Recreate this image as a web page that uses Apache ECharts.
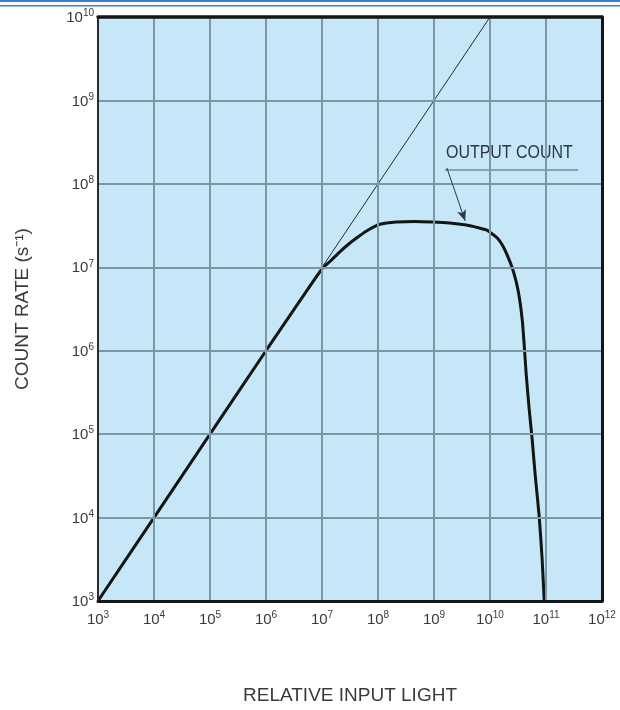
<!DOCTYPE html>
<html><head><meta charset="utf-8">
<script src="https://cdn.jsdelivr.net/npm/echarts@6/dist/echarts.min.js"></script>
<style>html,body{margin:0;padding:0;background:#fff}#c{width:620px;height:710px}</style>
</head><body><div id="c"></div>
<script>
// Output count curve (relative input light vs count rate)
const inputLight = [1e3, 1e4, 1e5, 1e6, 5e6, 1.03e7, 1.42e7, 2.06e7, 2.86e7, 4.14e7, 6.24e7, 9.8e7, 1.42e8, 2.14e8, 4.48e8, 9.35e8, 1.88e9, 3.78e9, 6.44e9, 8.59e9, 1.10e10, 1.35e10, 1.66e10, 2.03e10, 2.50e10, 2.94e10, 3.33e10, 3.77e10, 4.08e10, 4.44e10, 5.02e10, 5.68e10, 6.41e10, 7.57e10, 8.55e10, 9.29e10];
const countRate  = [1e3, 1e4, 1e5, 1e6, 4.9e6, 9.8e6, 1.19e7, 1.52e7, 1.85e7, 2.24e7, 2.72e7, 3.21e7, 3.40e7, 3.49e7, 3.54e7, 3.49e7, 3.40e7, 3.21e7, 2.96e7, 2.80e7, 2.51e7, 2.24e7, 1.85e7, 1.40e7, 9.8e6, 6.67e6, 4.41e6, 2.33e6, 1.17e6, 5.12e5, 1.95e5, 8.5e4, 3.24e4, 1.02e4, 3.1e3, 1e3];
// Ideal (linear) response
const idealX = [1e3, 1e10];
const idealY = [1e3, 1e10];
// Annotation arrow (data space)
const arrowFrom = [1.7e9, 1.55e8];
const arrowTo = [3.6e9, 3.6e7];
const annotation = 'OUTPUT COUNT';
const xTitle = 'RELATIVE INPUT LIGHT';
const yTitle = 'COUNT RATE (s⁻¹)';

const sans = "'Liberation Sans',Arial,sans-serif";
const supFmt = v => '{b|10}{s|' + Math.round(Math.log10(v)) + '}';
const rich = {
  b: {fontSize: 15, fontFamily: sans, color: '#3a3a3a', verticalAlign: 'bottom', lineHeight: 17},
  s: {fontSize: 10, fontFamily: sans, color: '#3a3a3a', verticalAlign: 'top', lineHeight: 17, padding:[0,0,6,0]}
};
const borderAxis = (w, c) => ({show: true, lineStyle: {color: c, width: w}});
const chart = echarts.init(document.getElementById('c'));
chart.setOption({
  animation: false,
  backgroundColor: '#ffffff',
  grid: {left: 98, top: 17, right: 18, bottom: 109, show: true, backgroundColor: '#c6e7f8', borderWidth: 0},
  xAxis: [{
    type: 'log', logBase: 10, min: 1e3, max: 1e12, splitNumber: 9,
    axisLine: borderAxis(3, '#151515'), axisTick: {show: false}, z: 5,
    splitLine: {show: true, lineStyle: {color: '#7d96a6', width: 2}},
    axisLabel: {formatter: supFmt, rich: rich, margin: 9, showMinLabel: true, showMaxLabel: true},
    name: xTitle, nameLocation: 'middle', nameGap: 85,
    nameTextStyle: {fontFamily: sans, fontSize: 19, color: '#3a3a3a'}
  }, {
    type: 'log', logBase: 10, min: 1e3, max: 1e12, position: 'top',
    axisLine: borderAxis(3.5, '#151515'), axisTick: {show: false}, axisLabel: {show: false}, splitLine: {show: false}, z: 5
  }],
  yAxis: [{
    type: 'log', logBase: 10, min: 1e3, max: 1e10, splitNumber: 7,
    axisLine: borderAxis(2, '#2a2e33'), axisTick: {show: false}, z: 5,
    splitLine: {show: true, lineStyle: {color: '#7d96a6', width: 2}},
    axisLabel: {formatter: supFmt, rich: rich, margin: 4, showMinLabel: true, showMaxLabel: true},
    name: yTitle, nameLocation: 'middle', nameGap: 66, nameRotate: 90,
    nameTextStyle: {fontFamily: sans, fontSize: 19, color: '#3a3a3a'}
  }, {
    type: 'log', logBase: 10, min: 1e3, max: 1e10, position: 'right',
    axisLine: borderAxis(3, '#151515'), axisTick: {show: false}, axisLabel: {show: false}, splitLine: {show: false}, z: 5
  }],
  series: [
    {type: 'line', data: idealX.map((x, i) => [x, idealY[i]]), showSymbol: false, lineStyle: {color: '#2a2a2a', width: 1}, z: 3},
    {type: 'line', data: inputLight.map((x, i) => [x, countRate[i]]), showSymbol: false, smooth: 0.2,
     lineStyle: {color: '#141414', width: 3}, z: 4,
     markLine: {silent: true, symbol: ['none', 'arrow'], symbolSize: [7, 11],
       lineStyle: {color: '#2a3a48', width: 1, type: 'solid'}, label: {show: false},
       data: [[{coord: arrowFrom}, {coord: arrowTo}]]}}
  ],
  graphic: [
    {type: 'rect', shape: {x: 0, y: 0, width: 620, height: 2}, style: {fill: '#3d7fc1'}, silent: true},
    {type: 'rect', shape: {x: 0, y: 5, width: 620, height: 1.5}, style: {fill: '#3d7fc1'}, silent: true},
    {type: 'text', x: 446, y: 143, scaleX: 0.84, style: {text: annotation, font: "19px 'Liberation Sans',Arial", fill: '#2e3640'}},
    {type: 'rect', shape: {x: 445, y: 169, width: 133, height: 2}, style: {fill: '#8aa1b2'}, silent: true}
  ]
});
</script></body></html>
